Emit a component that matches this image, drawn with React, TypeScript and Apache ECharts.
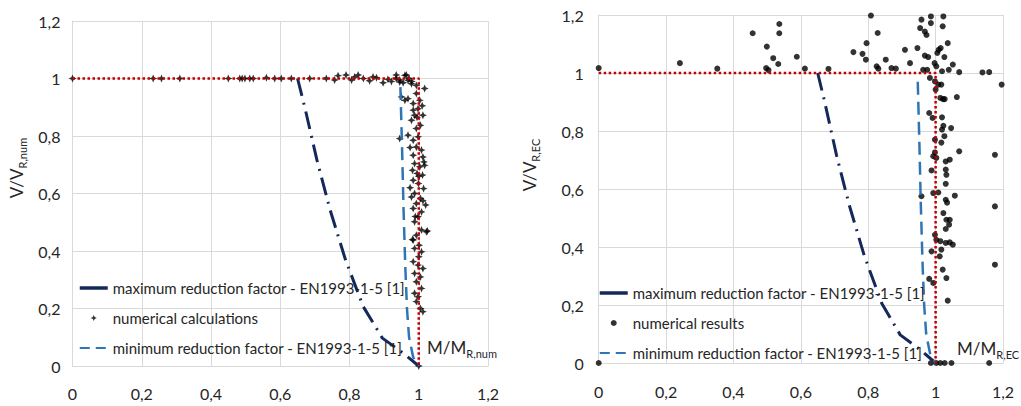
import React, { useEffect, useRef } from "react";
import * as echarts from "echarts";

const FONT = "Lato, 'Open Sans', sans-serif";
const TEXT = "#262626";

const MAX_NAME = "maximum reduction factor - EN1993-1-5 [1]";
const MIN_NAME = "minimum reduction factor - EN1993-1-5 [1]";
const NUM_CALC = "numerical calculations";
const NUM_RES = "numerical results";

const xTicks = [0, 0.2, 0.4, 0.6, 0.8, 1, 1.2];
const yTicks = [0, 0.2, 0.4, 0.6, 0.8, 1, 1.2];

const maxFactorLine = [
  [0.65, 1], [0.672, 0.894], [0.706, 0.716], [0.744, 0.543], [0.788, 0.371],
  [0.84, 0.206], [0.895, 0.097], [0.955, 0.045], [1.0, 0],
];
const minFactorLine = [
  [0.947, 0.97], [0.952, 0.75], [0.956, 0.55], [0.961, 0.35], [0.966, 0.2],
  [0.972, 0.1], [0.984, 0.03], [1.0, 0],
];
const limitLine = [[0, 1], [1, 1], [1, 0]];

const numericalCalculations = [
  [0, 1], [0.233, 1], [0.257, 1], [0.31, 1], [0.45, 1], [0.483, 1], [0.49, 1], [0.498, 1],
  [0.512, 1], [0.522, 1], [0.56, 1.003], [0.584, 1], [0.603, 1], [0.632, 1], [0.685, 1],
  [0.733, 1], [0.757, 0.995], [0.767, 1.01], [0.79, 1.012], [0.806, 0.995], [0.815, 1.005],
  [0.825, 1.012], [0.84, 1.0], [0.858, 0.992], [0.868, 1.005], [0.878, 1.003], [0.897, 0.985],
  [0.911, 0.997], [0.921, 0.99], [0.935, 1.012], [0.945, 0.995], [0.955, 0.985], [0.964, 1.012],
  [0.972, 1.0], [0.98, 0.99],
  [0.935, 1.0], [0.945, 0.988], [0.96, 1.011], [0.969, 0.994], [0.979, 0.982], [0.993, 0.976],
  [1.017, 0.965], [0.95, 0.936], [0.96, 0.924], [0.969, 0.93], [0.984, 0.913], [0.993, 0.948],
  [1.003, 0.924], [0.984, 0.89], [0.998, 0.895], [1.012, 0.872], [0.988, 0.872], [0.979, 0.855],
  [0.993, 0.826], [1.005, 0.837], [0.969, 0.803], [0.945, 0.791], [0.984, 0.785], [0.998, 0.797],
  [0.993, 0.762], [1.008, 0.751], [0.984, 0.733], [1.012, 0.727], [0.988, 0.704], [1.003, 0.693],
  [1.017, 0.698], [0.982, 0.681], [0.995, 0.67], [1.011, 0.664], [0.984, 0.646], [0.999, 0.635],
  [1.014, 0.617], [0.988, 0.6], [0.979, 0.588], [1.005, 0.583], [0.993, 0.565], [0.984, 0.548],
  [1.008, 0.536], [0.998, 0.519], [0.988, 0.502], [1.008, 0.473], [1.022, 0.467], [0.993, 0.455],
  [0.984, 0.438], [1.001, 0.42], [0.988, 0.409], [1.008, 0.397], [0.984, 0.363], [0.998, 0.351],
  [1.012, 0.339], [0.988, 0.322], [1.005, 0.31], [0.993, 0.293], [1.008, 0.27], [0.988, 0.253],
  [0.998, 0.241], [0.993, 0.224], [1.005, 0.2], [1.012, 0.189],
  [1.02, 0.56], [1.015, 0.71], [0.975, 0.62], [1.025, 0.47], [0.995, 0.865], [1.01, 0.905],
  [0.975, 0.76], [1.0, 0.38], [0.99, 0.52], [1.012, 0.575], [0.982, 0.44], [1.0, 0.66],
  [1, 0],
];

const numericalResults = [
  [0, 1.017], [0, 0], [0.241, 1.034], [0.352, 1.015], [0.457, 1.137], [0.499, 1.091],
  [0.497, 1.017], [0.504, 1.01], [0.518, 1.051], [0.533, 1.031], [0.536, 1.169], [0.536, 1.137],
  [0.588, 1.056], [0.612, 1.015], [0.682, 1.014], [0.756, 1.072], [0.783, 1.066], [0.793, 1.046],
  [0.795, 1.103], [0.808, 1.198], [0.828, 1.138], [0.825, 1.023], [0.83, 1.015], [0.852, 1.046],
  [0.869, 1.017], [0.882, 1.015], [0.909, 1.08], [0.924, 1.034], [0.946, 1.086], [0.954, 1.155],
  [0.958, 1.201], [0.958, 1.184], [0.968, 1.143], [0.973, 1.131], [0.986, 1.195], [0.986, 1.172],
  [0.963, 1.011], [0.975, 1.011], [0.968, 1.06], [0.978, 1.055], [0.997, 1.034], [1.002, 1.023],
  [1.005, 1.069], [1.009, 1.08], [1.015, 1.086], [1.023, 1.195], [1.021, 1.161], [1.036, 1.103],
  [1.026, 1.055], [1.019, 1.006], [1.039, 1.011], [1.051, 1.029], [1.07, 1.003], [1.139, 1.002],
  [1.159, 1.003], [1.196, 0.96], [0.983, 0.983], [0.998, 0.971], [1.008, 0.96], [1.017, 0.96],
  [1.0, 0.943], [1.014, 0.914], [1.022, 0.91], [1.027, 0.91], [1.063, 0.917], [0.981, 0.862],
  [0.991, 0.845], [1.019, 0.847], [1.023, 0.818], [1.019, 0.805], [1.026, 0.782], [1.046, 0.81],
  [0.998, 0.77], [1.017, 0.76], [0.998, 0.726], [0.993, 0.713], [1.002, 0.707], [1.07, 0.73],
  [1.176, 0.718], [1.03, 0.695], [1.042, 0.701], [1.03, 0.667], [1.032, 0.649], [1.03, 0.618],
  [0.988, 0.664], [0.958, 0.575], [0.993, 0.586], [1.008, 0.588], [1.03, 0.563], [1.034, 0.553],
  [1.057, 0.577], [1.176, 0.54], [1.023, 0.517], [1.032, 0.494], [1.04, 0.477], [1.03, 0.462],
  [1.042, 0.494], [0.998, 0.442], [1.002, 0.425], [1.014, 0.42], [1.03, 0.414], [1.042, 0.416],
  [1.051, 0.408], [0.988, 0.385], [1.012, 0.368], [1.017, 0.391], [1.176, 0.339], [1.021, 0.322],
  [1.032, 0.293], [0.981, 0.29], [0.993, 0.276], [1.036, 0.215],
  [0.986, 0], [1.002, 0], [1.014, 0], [1.027, 0], [1.047, 0], [1.159, 0],
];

const SPARKLE = "path://M0,-10 L3,-3 L10,0 L3,3 L0,10 L-3,3 L-10,0 L-3,-3 Z";

const fmt = (v: number) => String(Math.round(v * 10) / 10).replace(".", ",");

function axisX(gridIndex: number, margin: number) {
  return {
    gridIndex,
    type: "value",
    min: xTicks[0],
    max: xTicks[xTicks.length - 1],
    interval: 0.2,
    axisLine: { show: true, lineStyle: { color: "#d9d9d9", width: 1 } },
    axisTick: { show: false },
    splitLine: { show: true, lineStyle: { color: "#d9d9d9", width: 1 } },
    axisLabel: { formatter: fmt, fontSize: 16, color: TEXT, fontFamily: FONT, margin },
  };
}
function axisY(gridIndex: number, margin: number) {
  return {
    gridIndex,
    type: "value",
    min: yTicks[0],
    max: yTicks[yTicks.length - 1],
    interval: 0.2,
    axisLine: { show: true, lineStyle: { color: "#d9d9d9", width: 1 } },
    axisTick: { show: false },
    splitLine: { show: true, lineStyle: { color: "#d9d9d9", width: 1 } },
    axisLabel: { formatter: fmt, fontSize: 16, color: TEXT, fontFamily: FONT, margin },
  };
}

function seriesFor(idx: number, scatterName: string, scatterData: number[][], symbol: string, size: number) {
  return [
    {
      type: "scatter",
      name: scatterName,
      xAxisIndex: idx,
      yAxisIndex: idx,
      data: scatterData,
      symbol,
      symbolSize: size,
      itemStyle: { color: "#000000" },
      z: 2,
    },
    {
      type: "line",
      name: MAX_NAME,
      xAxisIndex: idx,
      yAxisIndex: idx,
      data: maxFactorLine,
      symbol: "none",
      lineStyle: { color: "#14285a", width: 3, type: [18, 7, 2, 7] },
      z: 3,
    },
    {
      type: "line",
      name: MIN_NAME,
      xAxisIndex: idx,
      yAxisIndex: idx,
      data: minFactorLine,
      symbol: "none",
      lineStyle: { color: "#2e75b6", width: 2.5, type: [13, 7] },
      z: 3,
    },
    {
      type: "line",
      name: "limit",
      xAxisIndex: idx,
      yAxisIndex: idx,
      data: limitLine,
      symbol: "none",
      lineStyle: { color: "#c00000", width: 2.5, type: [2.5, 2.5] },
      z: 4,
    },
  ];
}

function legendFor(left: number, top: number, scatterName: string) {
  const hidden = { color: "rgba(0,0,0,0)", borderWidth: 0, opacity: 0 };
  return {
    orient: "vertical",
    left,
    top,
    padding: 0,
    itemWidth: 28,
    itemHeight: 6,
    itemGap: 15,
    selectedMode: false,
    textStyle: { fontSize: 15, lineHeight: 15, color: TEXT, fontFamily: FONT },
    data: [
      { name: MAX_NAME, lineStyle: { type: "solid", width: 3.5 }, itemStyle: hidden },
      { name: scatterName },
      { name: MIN_NAME, lineStyle: { type: [10, 6] }, itemStyle: hidden },
    ],
  };
}

function titleText(x: number, y: number, main: string, sub: string, rotation: number, align: string) {
  return {
    type: "text",
    x,
    y,
    rotation,
    style: {
      text: `{a|${main}}{b|${sub}}`,
      align,
      verticalAlign: "middle",
      rich: {
        a: { fontSize: 17, lineHeight: 24, verticalAlign: "middle", fill: TEXT, fontFamily: FONT },
        b: { fontSize: 11, lineHeight: 24, verticalAlign: "bottom", fill: TEXT, fontFamily: FONT },
      },
    },
  };
}

export default function App() {
  const ref = useRef<HTMLDivElement>(null);
  useEffect(() => {
    if (!ref.current) return;
    const chart = echarts.init(ref.current, undefined, { renderer: "svg" });
    chart.setOption({
      animation: false,
      backgroundColor: "#ffffff",
      grid: [
        { left: 72.5, top: 21, width: 415.5, height: 345 },
        { left: 598.7, top: 15, width: 404.3, height: 348 },
      ],
      xAxis: [axisX(0, 19), axisX(1, 20)],
      yAxis: [axisY(0, 12), axisY(1, 15)],
      legend: [legendFor(78, 280.5, NUM_CALC), legendFor(598, 285.5, NUM_RES)],
      series: [
        ...seriesFor(0, NUM_CALC, numericalCalculations, SPARKLE, 8),
        ...seriesFor(1, NUM_RES, numericalResults, "circle", 6),
      ],
      graphic: [
        titleText(16, 168, "V/V", "R,num", Math.PI / 2, "center"),
        titleText(529, 165, "V/V", "R,EC", Math.PI / 2, "center"),
        titleText(427, 347, "M/M", "R,num", 0, "left"),
        titleText(957, 348, "M/M", "R,EC", 0, "left"),
      ],
    });
    return () => chart.dispose();
  }, []);
  return (
    <div
      ref={ref}
      style={{ position: "absolute", left: 0, top: 0, width: 1021, height: 406, background: "#fff" }}
    />
  );
}
